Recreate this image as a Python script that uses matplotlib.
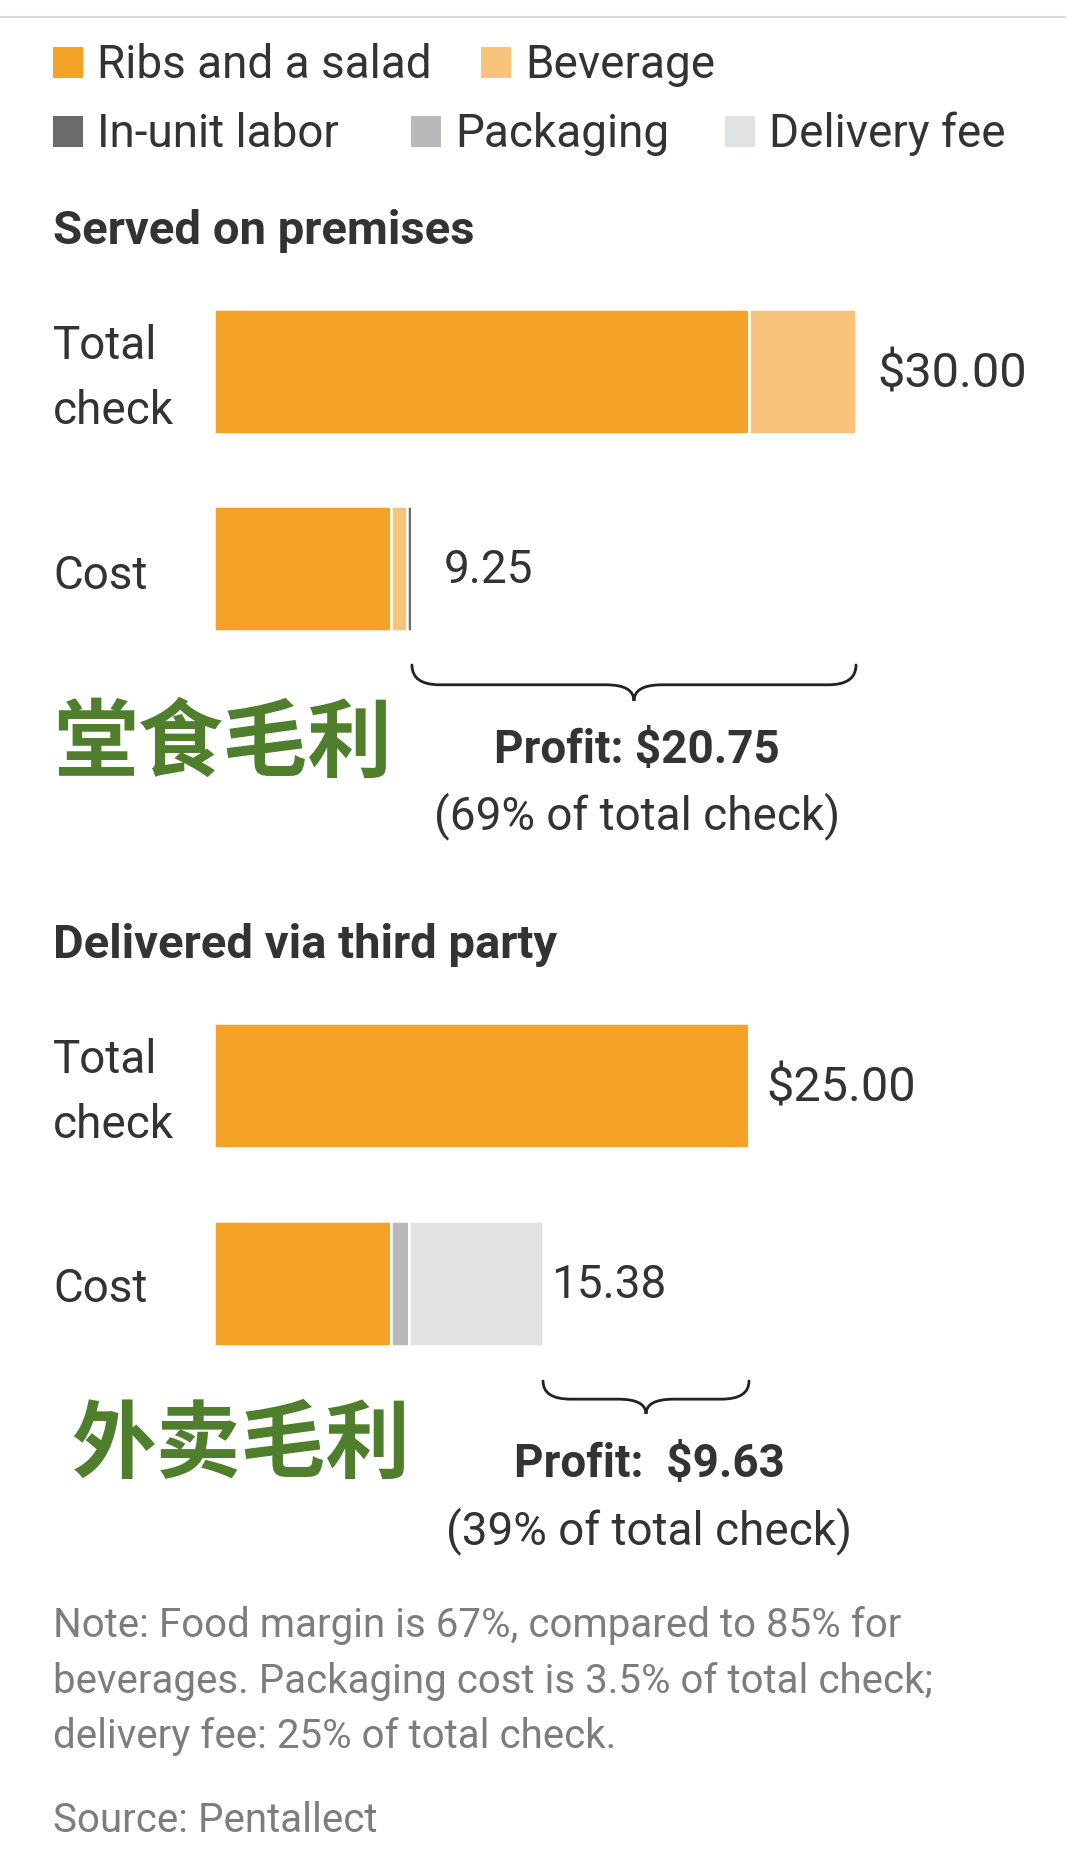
import numpy as np
import matplotlib
matplotlib.use("Agg")
import matplotlib.pyplot as plt
from matplotlib.patches import Rectangle, PathPatch
from matplotlib.path import Path

plt.rcParams['font.family'] = ['Roboto', 'Noto Sans CJK SC', 'DejaVu Sans']

# ---- data ----
categories = ['Ribs and a salad', 'Beverage', 'In-unit labor', 'Packaging', 'Delivery fee']
colors = ['#f5a228', '#f8c47c', '#6b6b6b', '#b9b9bb', '#e1e2e4']

section_titles = ['Served on premises', 'Delivered via third party']
row_labels = ['Total\ncheck', 'Cost']

premises_check = [25.0, 5.0, 0.0, 0.0, 0.0]
premises_cost = [8.25, 0.75, 0.25, 0.0, 0.0]
delivery_check = [25.0, 0.0, 0.0, 0.0, 0.0]
delivery_cost = [8.25, 0.0, 0.0, 0.875, 6.25]

check_labels = ['$30.00', '$25.00']
cost_labels = ['9.25', '15.38']
profit_labels = ['Profit: $20.75', 'Profit:  $9.63']
share_labels = ['(69% of total check)', '(39% of total check)']
cn_labels = ['堂食毛利', '外卖毛利']

note_lines = ['Note: Food margin is 67%, compared to 85% for',
              'beverages. Packaging cost is 3.5% of total check;',
              'delivery fee: 25% of total check.']
source = 'Source: Pentallect'

# ---- layout (pixels) ----
W, H = 1080, 1864
x0_px = 214          # where $0 sits
px_per_dollar = 21.4
bar_h = 125
TXT = '#333333'
NOTE = '#7d7d7d'
GREEN = '#4f7e2c'

fig = plt.figure(figsize=(W / 100, H / 100), dpi=100)
fig.patch.set_facecolor('white')

# text layer in pixels
tx = fig.add_axes([0, 0, 1, 1])
tx.set_xlim(0, W)
tx.set_ylim(H, 0)
tx.axis('off')

# bar layer: x in dollars, y in pixels
ax = fig.add_axes([0, 0, 1, 1])
ax.set_xlim(-x0_px / px_per_dollar, (W - x0_px) / px_per_dollar)
ax.set_ylim(H, 0)
ax.axis('off')
ax.patch.set_alpha(0)

# top rule
tx.plot([0, 1065], [17, 17], color='#dcdcdc', lw=1.5)

# legend
leg_pos = [(53, 78), (481, 78), (53, 147), (411, 147), (725, 147)]
for (lx, ly), name, c in zip(leg_pos, categories, colors):
    tx.add_patch(Rectangle((lx, ly - 31), 30, 31, color=c, lw=0))
    tx.text(lx + 44, ly, name, fontsize=33, color=TXT, va='baseline', ha='left')


def brace(x_left, x_right, ytop, ybot):
    mid = (x_left + x_right) / 2
    r = 1.3
    ym = ytop + (ybot - ytop) * 0.55
    verts = [(x_left, ytop), (x_left, ym), (x_left + r, ym),
             (mid - r, ym), (mid, ym), (mid, ybot),
             (mid, ym), (mid + r, ym),
             (x_right - r, ym), (x_right, ym), (x_right, ytop)]
    codes = [Path.MOVETO, Path.CURVE3, Path.CURVE3,
             Path.LINETO, Path.CURVE3, Path.CURVE3,
             Path.CURVE3, Path.CURVE3,
             Path.LINETO, Path.CURVE3, Path.CURVE3]
    ax.add_patch(PathPatch(Path(verts, codes), fill=False, lw=2.0,
                           edgecolor='#222222', capstyle='round'))


sections = [
    dict(check=premises_check, cost=premises_cost, title_y=244,
         check_y=371, cost_y=568, lab_y=[(359, 424), 589],
         gaps=[21, 32], brace_y=(665, 701), cn_y=745, cn_x=53,
         profit_y=763, share_y=829),
    dict(check=delivery_check, cost=delivery_cost, title_y=958,
         check_y=1085, cost_y=1283, lab_y=[(1073, 1138), 1302],
         gaps=[17, 8], brace_y=(1381, 1414), cn_y=1446, cn_x=71,
         profit_y=1477, share_y=1544),
]

for i, s in enumerate(sections):
    tx.text(53, s['title_y'], section_titles[i], fontsize=34, fontweight='bold',
            color=TXT, va='baseline')
    for yc, vals in [(s['check_y'], s['check']), (s['cost_y'], s['cost'])]:
        left = np.concatenate([[0], np.cumsum(vals)[:-1]])
        ax.barh([yc] * len(vals), vals, left=left, height=bar_h, color=colors,
                edgecolor='white', linewidth=1.8)
    # row labels
    (ty1, ty2), cy = s['lab_y']
    t1, t2 = row_labels[0].split('\n')
    tx.text(53, ty1, t1, fontsize=33, color=TXT, va='baseline')
    tx.text(53, ty2, t2, fontsize=33, color=TXT, va='baseline')
    tx.text(53, cy, row_labels[1], fontsize=33, color=TXT, va='baseline')
    # value labels
    check_total = sum(s['check'])
    cost_total = sum(s['cost'])
    gx = s['gaps']
    ax.text(check_total + gx[0] / px_per_dollar, s['check_y'] + 3, check_labels[i],
            fontsize=35, color=TXT, va='center')
    ax.text(cost_total + gx[1] / px_per_dollar, s['cost_y'] + 2, cost_labels[i],
            fontsize=33, color=TXT, va='center')
    # brace + profit
    brace(cost_total, check_total, *s['brace_y'])
    mid = (cost_total + check_total) / 2
    ax.text(mid + 3 / px_per_dollar, s['profit_y'], profit_labels[i], fontsize=33,
            fontweight='bold', color=TXT, ha='center', va='baseline')
    ax.text(mid + 3 / px_per_dollar, s['share_y'], share_labels[i], fontsize=33,
            color=TXT, ha='center', va='baseline')
    tx.text(s['cn_x'], s['cn_y'], cn_labels[i], fontsize=61, fontweight='bold',
            family=['Noto Sans CJK SC'], color=GREEN, va='center', ha='left')

# notes
for k, line in enumerate(note_lines):
    tx.text(53, [1637, 1693, 1748][k], line, fontsize=29, color=NOTE, va='baseline')
tx.text(53, 1832, source, fontsize=29, color=NOTE, va='baseline')

fig.savefig('out.png', dpi=100, facecolor='white')
